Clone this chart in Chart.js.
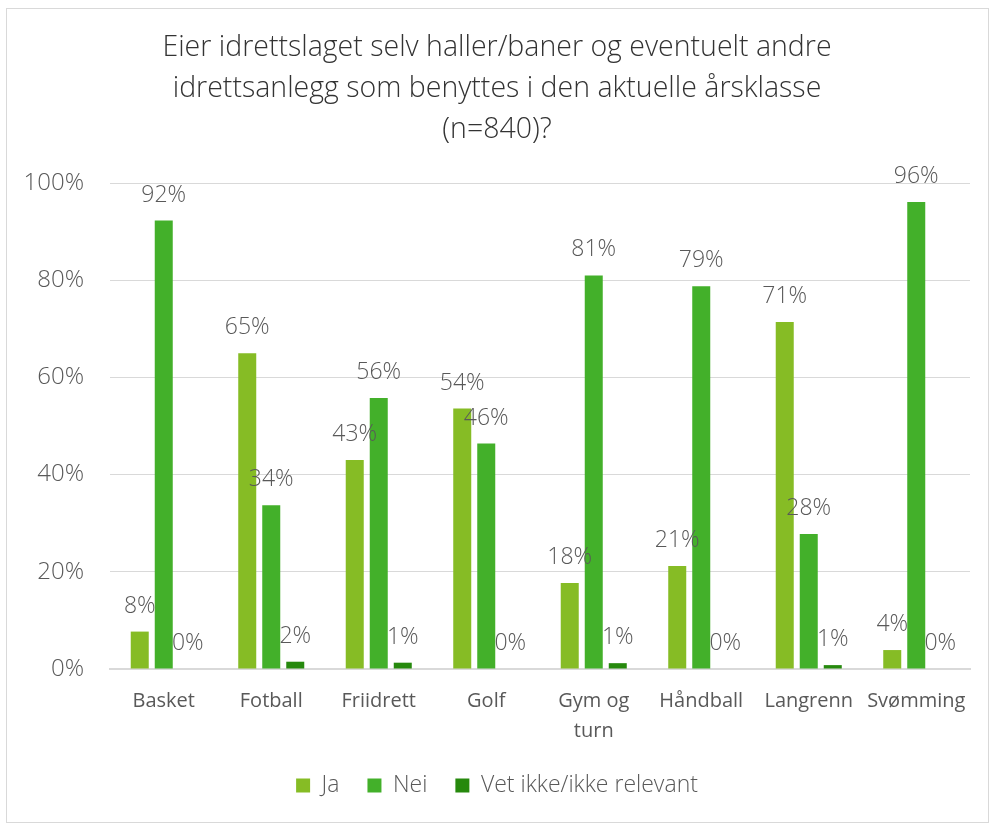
<!DOCTYPE html>
<html>
<head>
<meta charset="utf-8">
<script src="https://cdn.jsdelivr.net/npm/chart.js@4/dist/chart.umd.min.js"></script>
<style>
html,body{margin:0;padding:0;background:#fff;}
#wrap{position:relative;width:995px;height:825px;}
#frame{position:absolute;left:6px;top:8px;width:981px;height:813px;border:1px solid #d9d9d9;pointer-events:none;}
</style>
</head>
<body>
<div id="wrap">
<canvas id="chart" width="995" height="825"></canvas>
<div id="frame"></div>
</div>
<script>
/* Data */

const titleLines=[
"Eier idrettslaget selv haller/baner og eventuelt andre",
"idrettsanlegg som benyttes i den aktuelle årsklasse",
"(n=840)?"
];

const categories=["Basket","Fotball","Friidrett","Golf",["Gym og","turn"],"Håndball","Langrenn","Svømming"];

const jaValues=[7.7,65.0,43.0,53.6,17.7,21.2,71.4,3.9];
const neiValues=[92.3,33.7,55.8,46.4,81.0,78.8,27.8,96.1];
const vetValues=[0,1.5,1.3,0,1.2,0,0.8,0];

const seriesNames=["Ja","Nei","Vet ikke/ikke relevant"];
const seriesColors=["#86bc25","#43b02a","#26890d"];

const yTicks=[0,20,40,60,80,100];

const FONT="'Open Sans', sans-serif";
const GRAY="#595959";

/* Value labels above bars */

const valueLabels={
id:"valueLabels",
afterDatasetsDraw(chart){
const ctx=chart.ctx;
ctx.save();
ctx.font="300 23px "+FONT;
ctx.fillStyle=GRAY;
ctx.textAlign="center";
ctx.textBaseline="alphabetic";
chart.data.datasets.forEach((ds,i)=>{
chart.getDatasetMeta(i).data.forEach((bar,j)=>{
ctx.fillText(Math.round(ds.data[j])+"%",bar.x,bar.y-19);
});
});
ctx.restore();
}
};

new Chart(document.getElementById("chart"),{
type:"bar",
data:{
labels:categories,
datasets:[
{label:seriesNames[0],data:jaValues,backgroundColor:seriesColors[0]},
{label:seriesNames[1],data:neiValues,backgroundColor:seriesColors[1]},
{label:seriesNames[2],data:vetValues,backgroundColor:seriesColors[2]}
]
},
options:{
responsive:false,
animation:false,
categoryPercentage:0.67,
barPercentage:0.75,
layout:{padding:{left:24,right:25,top:27,bottom:18}},
plugins:{
title:{
display:true,
text:titleLines,
color:"#333333",
font:{family:FONT,size:28.5,weight:"300",lineHeight:1.44},
padding:{top:0,bottom:33}
},
legend:{
position:"bottom",
labels:{
color:GRAY,
font:{family:FONT,size:23,weight:"300"},
boxWidth:14,
boxHeight:14,
padding:28
}
},
tooltip:{enabled:false}
},
scales:{
x:{
grid:{display:false},
border:{color:"#d9d9d9",width:2},
ticks:{color:GRAY,font:{family:FONT,size:20,lineHeight:1.5},padding:9,maxRotation:0,autoSkip:false},
afterFit(scale){scale.height=77;}
},
y:{
min:0,
max:100,
afterBuildTicks(scale){scale.ticks=yTicks.map(v=>({value:v}));},
grid:{color:"#d9d9d9",drawTicks:false},
border:{display:false},
ticks:{color:GRAY,font:{family:FONT,size:24,weight:"300"},padding:26,callback:v=>v+"%"},
afterFit(scale){scale.width=86;}
}
}
},
plugins:[valueLabels]
});
</script>
</body>
</html>
